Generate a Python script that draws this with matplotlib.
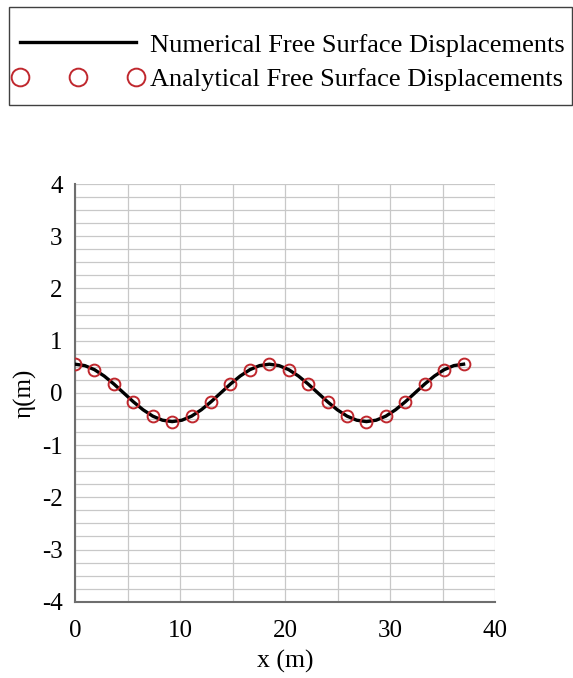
import matplotlib
matplotlib.use("Agg")
import matplotlib.pyplot as plt
from matplotlib.patches import Rectangle
import numpy as np

plt.rcParams['font.family'] = ['Liberation Serif', 'DejaVu Serif']
plt.rcParams['axes.unicode_minus'] = False

# numerical free surface (fine spacing)
x_num = [0, 0.925, 1.85, 2.775, 3.7, 4.625, 5.55, 6.475, 7.4, 8.325, 9.25,
         10.175, 11.1, 12.025, 12.95, 13.875, 14.8, 15.725, 16.65, 17.575, 18.5,
         19.425, 20.35, 21.275, 22.2, 23.125, 24.05, 24.975, 25.9, 26.825, 27.75,
         28.675, 29.6, 30.525, 31.45, 32.375, 33.3, 34.225, 35.15, 36.075, 37.0]
eta_num = [0.55, 0.523, 0.445, 0.323, 0.17, 0.0, -0.17, -0.323, -0.445, -0.523, -0.55,
           -0.523, -0.445, -0.323, -0.17, 0.0, 0.17, 0.323, 0.445, 0.523, 0.55,
           0.523, 0.445, 0.323, 0.17, 0.0, -0.17, -0.323, -0.445, -0.523, -0.55,
           -0.523, -0.445, -0.323, -0.17, 0.0, 0.17, 0.323, 0.445, 0.523, 0.55]

# analytical solution points
x_ana = [0, 1.85, 3.7, 5.55, 7.4, 9.25, 11.1, 12.95, 14.8, 16.65, 18.5,
         20.35, 22.2, 24.05, 25.9, 27.75, 29.6, 31.45, 33.3, 35.15, 37.0]
eta_ana = [0.55, 0.445, 0.17, -0.17, -0.445, -0.55, -0.445, -0.17, 0.17, 0.445, 0.55,
           0.445, 0.17, -0.17, -0.445, -0.55, -0.445, -0.17, 0.17, 0.445, 0.55]

x_ticks = [0, 10, 20, 30, 40]
y_ticks = [-4, -3, -2, -1, 0, 1, 2, 3, 4]

fig = plt.figure(figsize=(5.73, 6.78), dpi=100)
ax = fig.add_axes([0.131, 0.1125, 0.733, 0.616])

l1, = ax.plot(x_num, eta_num, color='black', linewidth=2.4, zorder=3,
              label='Numerical Free Surface Displacements')
l2, = ax.plot(x_ana, eta_ana, linestyle='none', marker='o', ms=8.5,
              markerfacecolor='none', markeredgecolor='#c0282e', mew=1.4, zorder=4,
              label='Analytical Free Surface Displacements')

ax.set_xlim(0, 40)
ax.set_ylim(-4, 4)
ax.set_xticks(x_ticks)
ax.set_yticks(y_ticks)
ax.set_xticks(np.arange(0, 41, 5), minor=True)
ax.set_yticks(np.arange(-4, 4.01, 0.25), minor=True)
ax.grid(True, which='both', color='#c8c8c8', linewidth=0.9)
ax.set_axisbelow(True)
ax.tick_params(which='both', length=0, labelsize=18)
ax.tick_params(axis='x', pad=13)
ax.tick_params(axis='y', pad=9)

for s in ['top', 'right']:
    ax.spines[s].set_visible(False)
for s in ['left', 'bottom']:
    ax.spines[s].set_color('#6e6e6e')
    ax.spines[s].set_linewidth(1.5)

ax.set_xlabel('x (m)', fontsize=18.5, labelpad=6)
ax.set_ylabel('η(m)', fontsize=18, labelpad=4)

# legend with its own frame across the top
W, H = 573.0, 678.0
fig.add_artist(Rectangle((9 / W, 1 - 105 / H), 563 / W, 98 / H,
                         transform=fig.transFigure, fill=False,
                         edgecolor='#404040', linewidth=1.0))
fig.legend(handles=[l1, l2], loc='center left', bbox_to_anchor=(12 / W, 1 - 62 / H),
           fontsize=19, numpoints=3, handlelength=5.0, markerscale=1.5,
           handletextpad=0.22, frameon=False, borderpad=0, borderaxespad=0,
           labelspacing=0.4)

fig.savefig('out.png', dpi=100)
